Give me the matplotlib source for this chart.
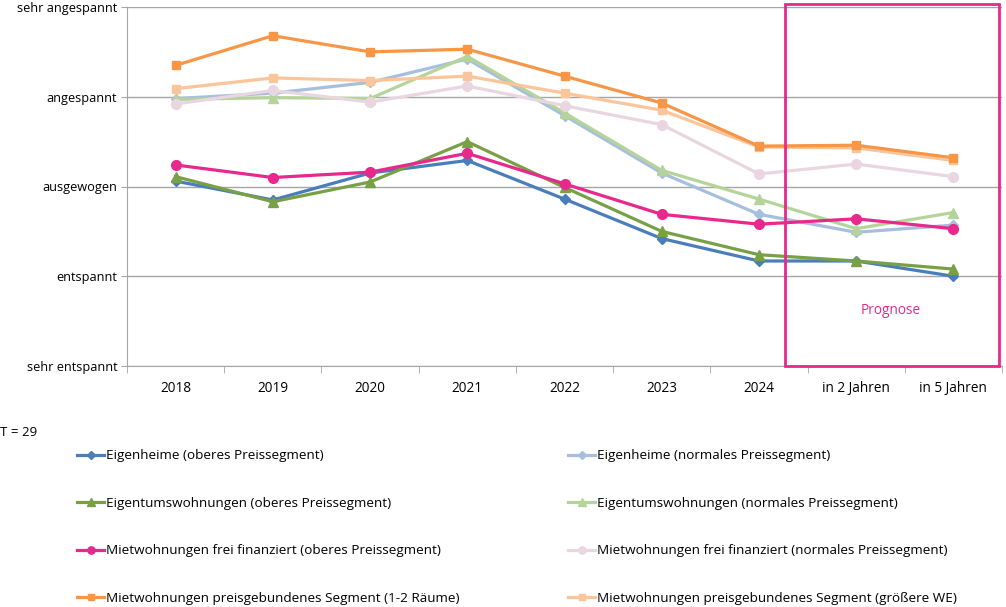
import numpy as np
import matplotlib.pyplot as plt
from matplotlib.patches import Rectangle

plt.rcParams['font.family'] = ['Open Sans', 'DejaVu Sans']

# Kategorien und Skala
kategorien = ['2018', '2019', '2020', '2021', '2022', '2023', '2024', 'in 2 Jahren', 'in 5 Jahren']
skala = ['sehr entspannt', 'entspannt', 'ausgewogen', 'angespannt', 'sehr angespannt']

# Werte (1 = sehr entspannt ... 5 = sehr angespannt)
eh_oben = [3.06, 2.85, 3.15, 3.29, 2.86, 2.42, 2.17, 2.17, 2.00]
eh_normal = [3.98, 4.04, 4.16, 4.42, 3.79, 3.15, 2.69, 2.49, 2.57]
etw_oben = [3.11, 2.83, 3.05, 3.50, 2.99, 2.50, 2.24, 2.17, 2.08]
etw_normal = [3.97, 3.99, 3.98, 4.45, 3.82, 3.18, 2.86, 2.53, 2.71]
miet_oben = [3.24, 3.10, 3.16, 3.37, 3.03, 2.69, 2.58, 2.64, 2.53]
miet_normal = [3.92, 4.07, 3.94, 4.12, 3.90, 3.69, 3.14, 3.25, 3.11]
pg_klein = [4.35, 4.68, 4.50, 4.53, 4.23, 3.93, 3.45, 3.46, 3.32]
pg_gross = [4.09, 4.21, 4.18, 4.23, 4.04, 3.85, 3.44, 3.43, 3.29]

serien = [
    ('Eigenheime (oberes Preissegment)', eh_oben, '#4a7ebb', 'D', 5),
    ('Eigenheime (normales Preissegment)', eh_normal, '#a7bfdd', 'D', 5),
    ('Eigentumswohnungen (oberes Preissegment)', etw_oben, '#78a045', '^', 7),
    ('Eigentumswohnungen (normales Preissegment)', etw_normal, '#b5d49b', '^', 7),
    ('Mietwohnungen frei finanziert (oberes Preissegment)', miet_oben, '#e8288c', 'o', 7),
    ('Mietwohnungen frei finanziert (normales Preissegment)', miet_normal, '#e9d6e1', 'o', 7),
    ('Mietwohnungen preisgebundenes Segment (1-2 Räume)', pg_klein, '#f79646', 's', 6),
    ('Mietwohnungen preisgebundenes Segment (größere WE)', pg_gross, '#fac59a', 's', 6),
]

fig = plt.figure(figsize=(10.06, 6.07), dpi=100)
ax = fig.add_axes([127/1006, 1 - 366/607, 875/1006, 359/607])

x = np.arange(len(kategorien))
linien = {}
# hellere Linien zuerst zeichnen
for name, werte, farbe, marker, ms in serien[1::2] + serien[0::2]:
    l, = ax.plot(x, werte, color=farbe, marker=marker, markersize=ms, linewidth=2.3, label=name)
    linien[name] = l

ax.set_xlim(-0.5, len(kategorien) - 0.5)
ax.set_ylim(1, 5)
ax.set_yticks([1, 2, 3, 4, 5])
ax.set_yticklabels(skala, fontsize=9.2)
ax.set_xticks(x)
ax.set_xticklabels(kategorien, fontsize=9.8)
ax.set_xticks(np.arange(-0.5, len(kategorien)), minor=True)
ax.tick_params(axis='x', which='major', length=0, pad=11)
ax.tick_params(axis='x', which='minor', length=5, color='#a6a6a6')
ax.tick_params(axis='y', length=4, color='#a6a6a6', pad=3)
ax.grid(axis='y', color='#a6a6a6', linewidth=1)
ax.set_axisbelow(True)
for s in ['top', 'right']:
    ax.spines[s].set_visible(False)
for s in ['left', 'bottom']:
    ax.spines[s].set_color('#a6a6a6')

# Prognose-Rahmen
ax.add_patch(Rectangle((6.27, 1.0), 2.20, 4.03, fill=False, edgecolor='#e8288c',
                       linewidth=2, clip_on=False, zorder=5))
ax.text(7.36, 1.62, 'Prognose', color='#e8288c', fontsize=9.8, ha='center', va='center')

fig.text(0.0, 1 - 433/607, 'T = 29', fontsize=9.5, va='center', ha='left')

links = [linien[s[0]] for s in serien[0::2]]
rechts = [linien[s[0]] for s in serien[1::2]]
kw = dict(frameon=False, fontsize=9.7, handlelength=2.0, handletextpad=0.1,
          labelspacing=2.56, loc='upper left', borderaxespad=0, markerscale=0.75)
fig.legend(handles=links, bbox_to_anchor=(72/1006, 1 - 444/607), **kw)
fig.legend(handles=rechts, bbox_to_anchor=(563/1006, 1 - 444/607), **kw)

fig.savefig('out.png', dpi=100)
